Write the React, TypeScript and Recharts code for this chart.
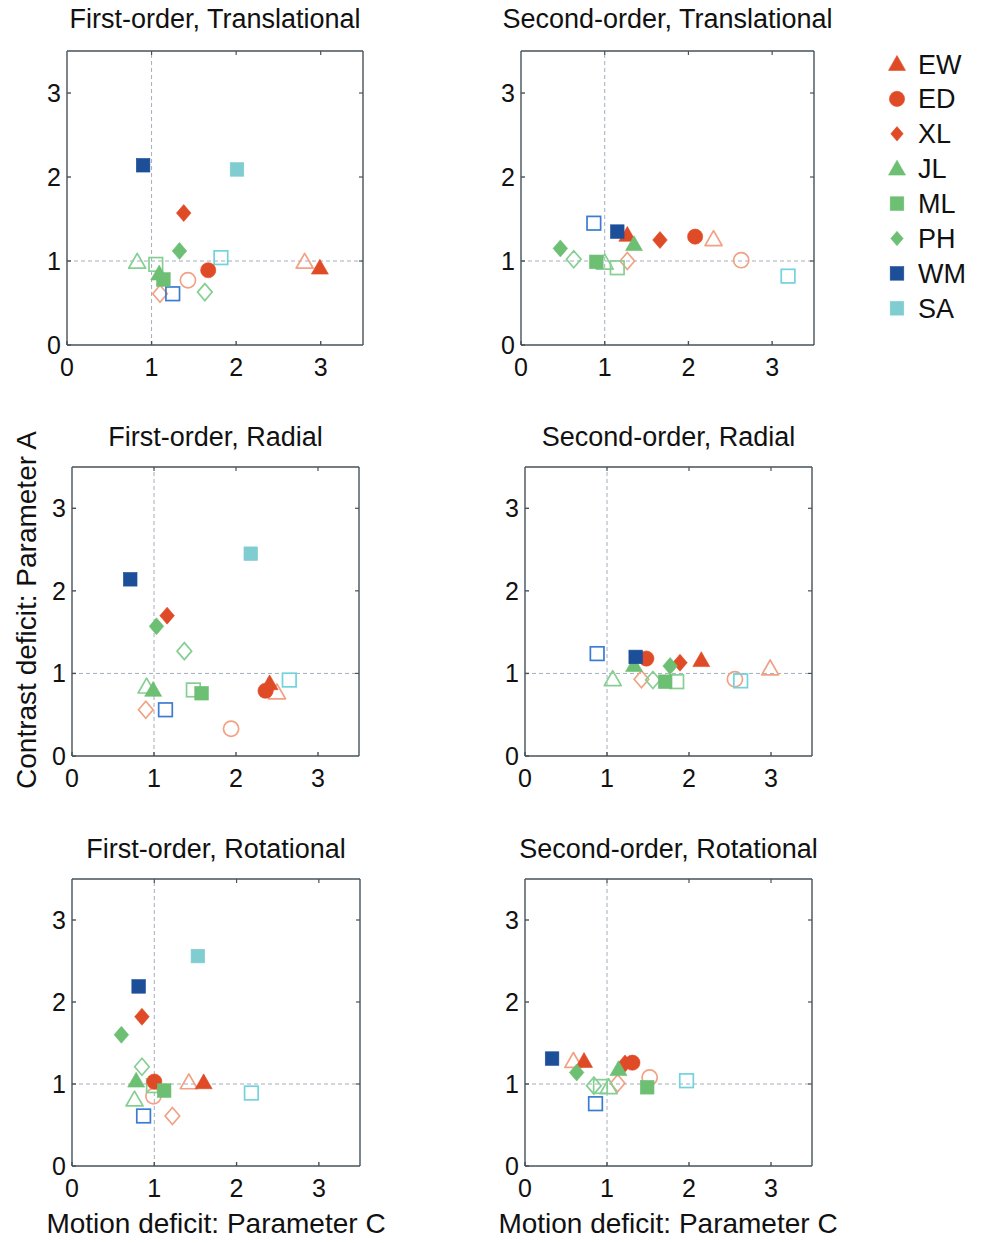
import React from "react";
import { ScatterChart, Scatter, XAxis, YAxis, ReferenceLine } from "recharts";

// subjects, in legend order
const subjects = ["EW", "ED", "XL", "JL", "ML", "PH", "WM", "SA"];
const shapes = ["triangle", "circle", "diamond", "triangle", "square", "diamond", "square", "square"];
const filledColors = ["#e04b27", "#e04b27", "#e04b27", "#6dbf73", "#6dbf73", "#6dbf73", "#1d4f99", "#7fcdd0"];
const openColors = ["#f2a184", "#f2a184", "#f2a184", "#86cf92", "#86cf92", "#86cf92", "#3b7bd4", "#72d2de"];

const ticks = [0, 1, 2, 3];
const innerTicks = [1, 2, 3];

type Pt = [number, number] | null;

// [motion deficit C, contrast deficit A], one per subject (EW..SA)
const firstTransFilled: Pt[] = [[2.99, 0.92], [1.67, 0.89], [1.38, 1.57], [1.09, 0.85], [1.14, 0.78], [1.33, 1.12], [0.9, 2.14], [2.01, 2.09]];
const firstTransOpen: Pt[] = [[2.81, 0.99], [1.43, 0.77], [1.1, 0.61], [0.83, 0.99], [1.05, 0.96], [1.63, 0.63], [1.25, 0.61], [1.82, 1.04]];

const secondTransFilled: Pt[] = [[1.27, 1.31], [2.08, 1.29], [1.66, 1.25], [1.35, 1.2], [0.9, 0.99], [0.47, 1.15], [1.15, 1.35], null];
const secondTransOpen: Pt[] = [[2.3, 1.26], [2.63, 1.01], [1.27, 1.0], [1.0, 0.98], [1.15, 0.92], [0.63, 1.02], [0.87, 1.45], [3.19, 0.82]];

const firstRadFilled: Pt[] = [[2.41, 0.88], [2.36, 0.79], [1.16, 1.7], [0.99, 0.8], [1.58, 0.76], [1.03, 1.57], [0.71, 2.14], [2.18, 2.45]];
const firstRadOpen: Pt[] = [[2.5, 0.77], [1.94, 0.33], [0.9, 0.56], [0.91, 0.84], [1.48, 0.8], [1.37, 1.27], [1.14, 0.56], [2.65, 0.92]];

const secondRadFilled: Pt[] = [[2.15, 1.16], [1.48, 1.18], [1.89, 1.13], [1.33, 1.1], [1.71, 0.9], [1.77, 1.09], [1.35, 1.2], null];
const secondRadOpen: Pt[] = [[2.99, 1.06], [2.56, 0.93], [1.42, 0.93], [1.07, 0.93], [1.85, 0.9], [1.56, 0.92], [0.88, 1.24], [2.63, 0.91]];

const firstRotFilled: Pt[] = [[1.6, 1.02], [1.0, 1.03], [0.85, 1.82], [0.78, 1.04], [1.12, 0.92], [0.6, 1.6], [0.81, 2.19], [1.53, 2.56]];
const firstRotOpen: Pt[] = [[1.42, 1.02], [0.99, 0.85], [1.22, 0.61], [0.76, 0.81], [0.99, 0.98], [0.85, 1.21], [0.87, 0.61], [2.18, 0.89]];

const secondRotFilled: Pt[] = [[0.72, 1.28], [1.31, 1.26], [1.22, 1.25], [1.14, 1.18], [1.49, 0.96], [0.63, 1.14], [0.33, 1.31], null];
const secondRotOpen: Pt[] = [[0.59, 1.28], [1.52, 1.08], [1.13, 1.01], [1.02, 0.96], [0.92, 0.97], [0.84, 0.98], [0.86, 0.76], [1.97, 1.04]];

const FONT = "'Liberation Sans', Arial, Helvetica, sans-serif";
const FRAME = "#46525a";
const GUIDE = "#a3aebb";

const panels = [
  { title: "First-order, Translational", filled: firstTransFilled, open: firstTransOpen, left: 67, top: 51, w: 296, h: 294 },
  { title: "Second-order, Translational", filled: secondTransFilled, open: secondTransOpen, left: 521, top: 51, w: 293, h: 294 },
  { title: "First-order, Radial", filled: firstRadFilled, open: firstRadOpen, left: 72, top: 467, w: 287, h: 289 },
  { title: "Second-order, Radial", filled: secondRadFilled, open: secondRadOpen, left: 525, top: 467, w: 287, h: 289 },
  { title: "First-order, Rotational", filled: firstRotFilled, open: firstRotOpen, left: 72, top: 879, w: 288, h: 287 },
  { title: "Second-order, Rotational", filled: secondRotFilled, open: secondRotOpen, left: 525, top: 879, w: 287, h: 287 },
];

function marker(kind: string, cx: number, cy: number, color: string, filled: boolean, k = 1) {
  const fill = filled ? color : "none";
  const sw = filled ? 0.6 : 1.7;
  if (kind === "triangle") {
    const s = 8.5 * k;
    const pts = `${cx},${cy - s} ${cx + s},${cy + s * 0.75} ${cx - s},${cy + s * 0.75}`;
    return <polygon points={pts} fill={fill} stroke={color} strokeWidth={sw} strokeLinejoin="round" />;
  }
  if (kind === "circle") {
    return <circle cx={cx} cy={cy} r={7.6 * k} fill={fill} stroke={color} strokeWidth={sw} />;
  }
  if (kind === "diamond") {
    const a = 7.3 * k;
    const b = 8.5 * k;
    const pts = `${cx},${cy - b} ${cx + a},${cy} ${cx},${cy + b} ${cx - a},${cy}`;
    return <polygon points={pts} fill={fill} stroke={color} strokeWidth={sw} />;
  }
  const h = 6.8 * k;
  return <rect x={cx - h} y={cy - h} width={2 * h} height={2 * h} fill={fill} stroke={color} strokeWidth={sw} />;
}

function Panel({ p }: { p: (typeof panels)[number] }) {
  const tickStyle = { fill: "#111", fontSize: 25, fontFamily: FONT };
  const series: { key: string; pt: [number, number]; idx: number; filled: boolean }[] = [];
  subjects.forEach((s, i) => {
    const o = p.open[i];
    if (o) series.push({ key: s + "-open", pt: o, idx: i, filled: false });
  });
  subjects.forEach((s, i) => {
    const f = p.filled[i];
    if (f) series.push({ key: s + "-filled", pt: f, idx: i, filled: true });
  });
  const tx = 4 * (3.5 / p.w);
  const ty = 4 * (3.5 / p.h);

  return (
    <div style={{ position: "absolute", left: p.left - 60, top: p.top - 10 }}>
      <ScatterChart width={p.w + 70} height={p.h + 55} margin={{ top: 10, right: 10, left: 0, bottom: 0 }}>
        <XAxis
          type="number"
          dataKey="x"
          domain={[0, 3.5]}
          ticks={ticks}
          allowDataOverflow
          height={45}
          stroke={FRAME}
          strokeWidth={1.4}
          tickSize={-4}
          tickMargin={17}
          tick={tickStyle}
        />
        <YAxis
          type="number"
          dataKey="y"
          domain={[0, 3.5]}
          ticks={ticks}
          allowDataOverflow
          width={60}
          stroke={FRAME}
          strokeWidth={1.4}
          tickSize={-4}
          tickMargin={10}
          tick={tickStyle}
        />
        <ReferenceLine x={1} stroke={GUIDE} strokeDasharray="4 3" strokeWidth={1} />
        <ReferenceLine y={1} stroke={GUIDE} strokeDasharray="4 3" strokeWidth={1} />
        <ReferenceLine x={3.5} stroke={FRAME} strokeWidth={1.4} />
        <ReferenceLine y={3.5} stroke={FRAME} strokeWidth={1.4} />
        {innerTicks.map((t) => (
          <ReferenceLine key={"tt" + t} segment={[{ x: t, y: 3.5 }, { x: t, y: 3.5 - ty }]} stroke={FRAME} strokeWidth={1.2} />
        ))}
        {innerTicks.map((t) => (
          <ReferenceLine key={"tr" + t} segment={[{ x: 3.5, y: t }, { x: 3.5 - tx, y: t }]} stroke={FRAME} strokeWidth={1.2} />
        ))}
        {series.map((s) => (
          <Scatter
            key={s.key}
            name={s.key}
            data={[{ x: s.pt[0], y: s.pt[1] }]}
            isAnimationActive={false}
            shape={(props: any) =>
              marker(shapes[s.idx], props.cx, props.cy, s.filled ? filledColors[s.idx] : openColors[s.idx], s.filled)
            }
          />
        ))}
      </ScatterChart>
    </div>
  );
}

export default function App() {
  const titleBase = [28, 28, 446, 446, 858, 858];
  return (
    <div style={{ position: "absolute", left: 0, top: 0, width: 982, height: 1243, background: "#fff", fontFamily: FONT }}>
      {panels.map((p) => (
        <Panel key={p.title} p={p} />
      ))}
      <svg width={982} height={1243} style={{ position: "absolute", left: 0, top: 0, pointerEvents: "none" }}>
        {panels.map((p, i) => (
          <text key={p.title} x={p.left + p.w / 2} y={titleBase[i]} textAnchor="middle" fontSize={27} fontFamily={FONT} fill="#111">
            {p.title}
          </text>
        ))}
        <text x={216} y={1233} textAnchor="middle" fontSize={28} fontFamily={FONT} fill="#111">
          Motion deficit: Parameter C
        </text>
        <text x={668} y={1233} textAnchor="middle" fontSize={28} fontFamily={FONT} fill="#111">
          Motion deficit: Parameter C
        </text>
        <text x={36} y={610} transform="rotate(-90 36 610)" textAnchor="middle" fontSize={28} fontFamily={FONT} fill="#111">
          Contrast deficit: Parameter A
        </text>
        {subjects.map((s, i) => {
          const cy = 64 + i * 34.9;
          const k = shapes[i] === "diamond" ? 0.85 : 1;
          return (
            <g key={s}>
              {marker(shapes[i], 897, cy, filledColors[i], true, k)}
              <text x={918} y={cy + 9.5} fontSize={27} fontFamily={FONT} fill="#111">
                {s}
              </text>
            </g>
          );
        })}
      </svg>
    </div>
  );
}
